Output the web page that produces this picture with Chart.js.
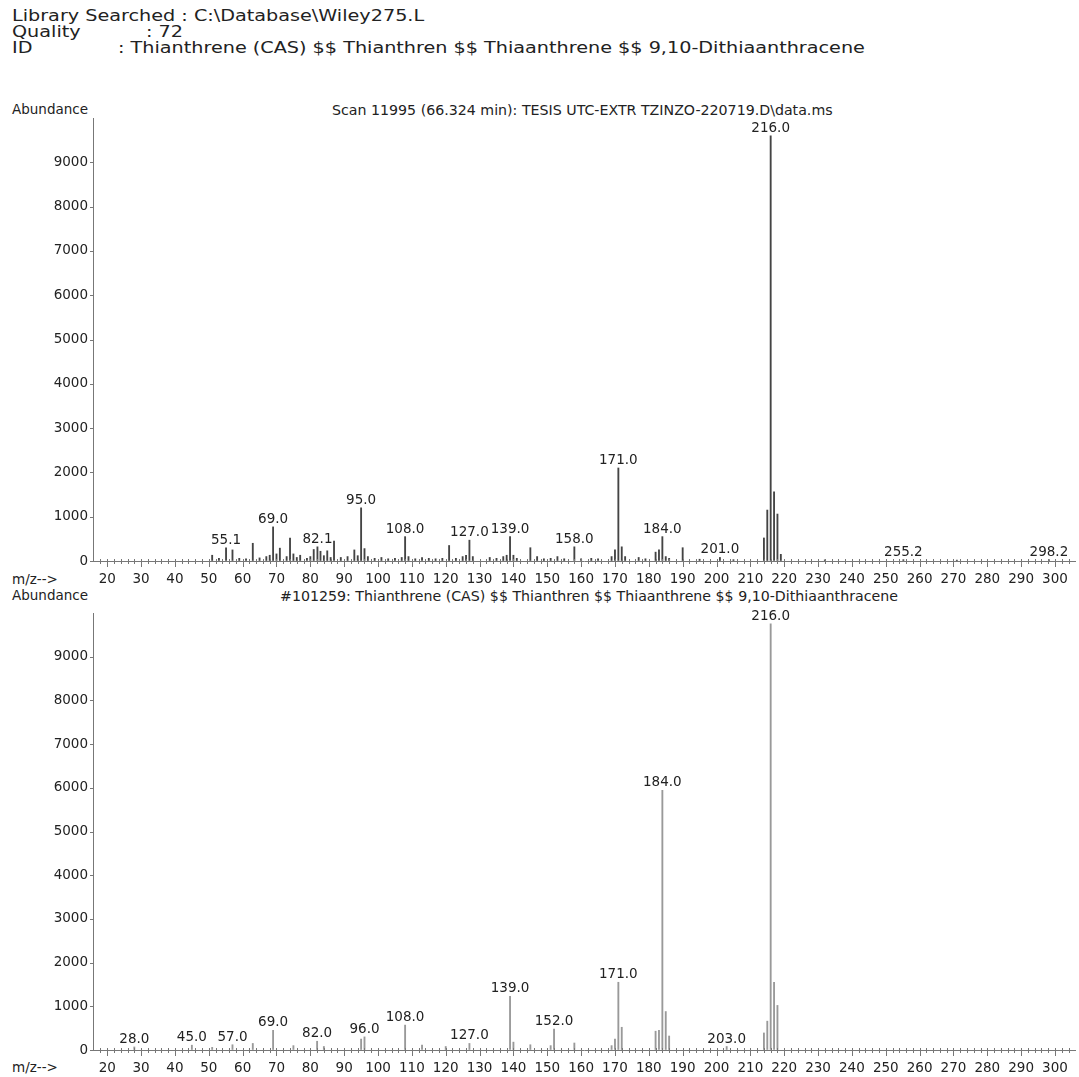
<!DOCTYPE html>
<html>
<head>
<meta charset="utf-8">
<script src="https://cdn.jsdelivr.net/npm/chart.js@4.4.0/dist/chart.umd.min.js"></script>
<style>
  body { margin: 0; background: #fff; width: 1079px; height: 1077px; position: relative; overflow: hidden;
         font-family: "DejaVu Sans", sans-serif; color: #222; }
  .txt { position: absolute; white-space: pre; line-height: 1; }
  .hdr { font-size: 16px; transform: scaleX(1.2); transform-origin: left top; }
  .lbl { font-size: 13.5px; }
  .ttl { font-size: 14.2px; }
  .box { position: absolute; left: 0; width: 1079px; }
</style>
</head>
<body>

<div class="txt hdr" style="left:12px; top:8px">Library Searched : C:\Database\Wiley275.L</div>
<div class="txt hdr" style="left:12px; top:24px">Quality</div>
<div class="txt hdr" style="left:146px; top:24px">: 72</div>
<div class="txt hdr" style="left:12px; top:40px">ID</div>
<div class="txt hdr" style="left:118px; top:40px">: Thianthrene (CAS) $$ Thianthren $$ Thiaanthrene $$ 9,10-Dithiaanthracene</div>

<div class="txt lbl" style="left:12px; top:103px">Abundance</div>
<div class="txt ttl" style="left:332px; top:103px">Scan 11995 (66.324 min): TESIS UTC-EXTR TZINZO-220719.D\data.ms</div>
<div class="txt lbl" style="left:12px; top:573px">m/z--&gt;</div>

<div class="txt lbl" style="left:12px; top:589px">Abundance</div>
<div class="txt ttl" style="left:280px; top:589px">#101259: Thianthrene (CAS) $$ Thianthren $$ Thiaanthrene $$ 9,10-Dithiaanthracene</div>
<div class="txt lbl" style="left:12px; top:1061px">m/z--&gt;</div>

<div class="box" style="top:100px; height:500px"><canvas id="js--scan"></canvas></div>
<div class="box" style="top:595px; height:482px"><canvas id="js--library"></canvas></div>

<script>
/* gemeten spectrum (scan 11995) */
const scanMz = [51, 53, 55.1, 57, 59, 61, 63, 65, 67, 68, 69, 70, 71, 73, 74, 75, 76, 77, 79, 80,
    81, 82.1, 83, 84, 85, 86, 87, 89, 91, 93, 94, 95, 96, 97, 99, 101, 103, 105, 107, 108,
    109, 111, 113, 115, 117, 119, 121, 123, 125, 126, 127, 128, 133, 135, 137, 138, 139, 140, 141, 145,
    147, 149, 151, 153, 155, 158, 160, 163, 165, 169, 170, 171, 172, 173, 177, 179, 182, 183, 184, 185,
    186, 190, 195, 201, 205, 214, 215, 216, 217, 218, 219, 232, 255.2, 271, 298.2];
const scanAbund = [130, 60, 300, 250, 60, 50, 400, 70, 100, 130, 770, 160, 290, 100, 520, 160, 80, 130, 60, 100,
    260, 320, 220, 120, 230, 80, 450, 80, 100, 250, 120, 1200, 280, 100, 60, 80, 50, 60, 80, 550,
    100, 50, 80, 60, 50, 60, 350, 60, 100, 130, 470, 100, 80, 60, 100, 130, 550, 130, 60, 300,
    100, 50, 60, 100, 50, 320, 50, 60, 50, 100, 250, 2100, 320, 100, 80, 50, 200, 250, 550, 100,
    60, 300, 40, 80, 30, 520, 1150, 9600, 1560, 1060, 150, 25, 30, 20, 30];
const scanPeaks = [55.1, 69, 82.1, 95, 108, 127, 139, 158, 171, 184, 201, 216, 255.2, 298.2];

/* bibliotheek spectrum #101259 */
const libMz = [28, 45, 51, 57, 63, 69, 75, 82, 84, 95, 96, 108, 113, 120, 127, 139, 140, 145, 151, 152,
    158, 169, 170, 171, 172, 182, 183, 184, 185, 186, 203, 214, 215, 216, 217, 218];
const libAbund = [70, 110, 60, 120, 150, 450, 100, 200, 80, 250, 300, 570, 110, 80, 150, 1230, 180, 120, 100, 480,
    160, 100, 250, 1550, 520, 430, 450, 5940, 880, 320, 80, 390, 660, 9750, 1550, 1020];
const libPeaks = [28, 45, 57, 69, 82, 96, 108, 127, 139, 152, 171, 184, 203, 216];

const yTicks = [0, 1000, 2000, 3000, 4000, 5000, 6000, 7000, 8000, 9000];

const font = { family: '"DejaVu Sans", sans-serif', size: 13.5 };

// getal boven elke gemarkeerde piek
const peakLabels = {
    id: 'peakLabels',
    afterDatasetsDraw(chart, args, opts) {
        const ctx = chart.ctx;
        const data = chart.data.datasets[0].data;
        const meta = chart.getDatasetMeta(0);
        ctx.save();
        ctx.font = '13.5px "DejaVu Sans", sans-serif';
        ctx.fillStyle = '#222';
        ctx.textAlign = 'center';
        ctx.textBaseline = 'alphabetic';
        opts.peaks.forEach(function (p) {
            const i = data.findIndex(function (d) { return d.x === p; });
            const bar = meta.data[i];
            ctx.fillText(p.toFixed(1), bar.x, bar.y - 4);
        });
        ctx.restore();
    }
};

// streepjes op de assen
const axisTicks = {
    id: 'axisTicks',
    afterDraw(chart) {
        const ctx = chart.ctx;
        const x = chart.scales.x;
        const y = chart.scales.y;
        ctx.save();
        ctx.strokeStyle = '#777';
        ctx.lineWidth = 1;
        ctx.beginPath();
        x.ticks.forEach(function (t) {
            const px = Math.round(x.getPixelForValue(t.value)) + 0.5;
            const major = Math.round(t.value) % 10 === 0;
            ctx.moveTo(px, y.bottom - 2);
            ctx.lineTo(px, y.bottom + (major ? 6 : 3));
        });
        y.ticks.forEach(function (t) {
            if (t.value > 9000) return;
            const py = Math.round(y.getPixelForValue(t.value)) + 0.5;
            ctx.moveTo(x.left - 3, py);
            ctx.lineTo(x.left, py);
        });
        ctx.stroke();
        ctx.restore();
    }
};

function spectrum(id, mz, abund, peaks, color, axisHeight) {
    const points = mz.map(function (m, i) { return { x: m, y: abund[i] }; });
    return new Chart(document.getElementById(id), {
        type: 'bar',
        data: {
            datasets: [{
                data: points,
                backgroundColor: color,
                barThickness: 1.2
            }]
        },
        options: {
            responsive: true,
            maintainAspectRatio: false,
            animation: false,
            layout: { padding: { top: 18, right: 4, left: 0, bottom: 0 } },
            plugins: {
                legend: { display: false },
                tooltip: { enabled: false },
                peakLabels: { peaks: peaks }
            },
            scales: {
                x: {
                    type: 'linear',
                    min: 16.8,
                    max: 304.9,
                    afterFit: function (s) { s.height = axisHeight; },
                    grid: { drawOnChartArea: false, drawTicks: false },
                    border: { color: '#777' },
                    ticks: {
                        stepSize: 2,
                        includeBounds: false,
                        autoSkip: false,
                        maxRotation: 0,
                        padding: 10,
                        color: '#222',
                        font: font,
                        callback: function (v) {
                            const n = Math.round(v);
                            return (n % 10 === 0 && n >= 20 && n <= 300) ? String(n) : '';
                        }
                    }
                },
                y: {
                    min: 0,
                    max: 10000,
                    afterFit: function (s) { s.width = 93; },
                    afterBuildTicks: function (s) {
                        s.ticks = yTicks.map(function (v) { return { value: v }; });
                    },
                    grid: { drawOnChartArea: false, drawTicks: false },
                    border: { color: '#777' },
                    ticks: {
                        padding: 5,
                        color: '#222',
                        font: font,
                        callback: function (v) { return String(v); }
                    }
                }
            }
        },
        plugins: [peakLabels, axisTicks]
    });
}

spectrum('js--scan', scanMz, scanAbund, scanPeaks, '#444', 39);
spectrum('js--library', libMz, libAbund, libPeaks, '#999', 27);
</script>
</body>
</html>
